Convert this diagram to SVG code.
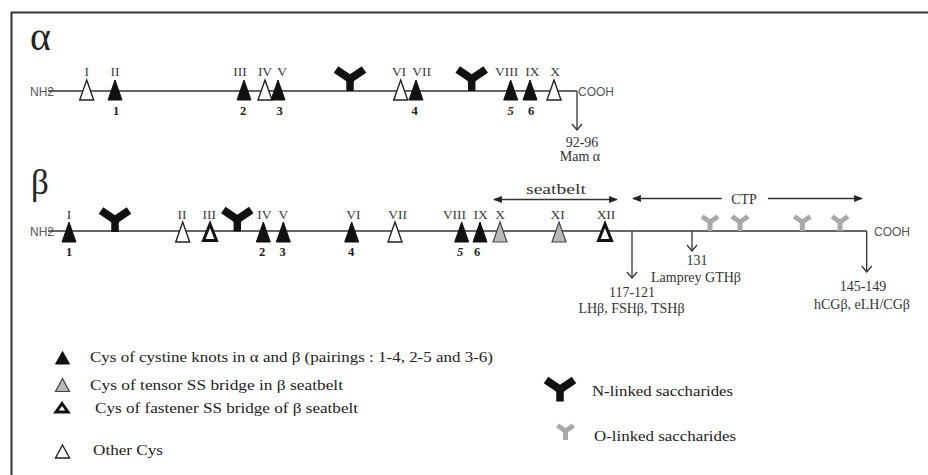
<svg xmlns="http://www.w3.org/2000/svg" xmlns:xlink="http://www.w3.org/1999/xlink" width="928" height="475" viewBox="0 0 928 475">
<style>
  .bg{fill:#fff}
  .frame{fill:none;stroke:#333;stroke-width:2}
  .chain{fill:none;stroke:#333;stroke-width:1.5}
  .tk{fill:#111;stroke:#111;stroke-width:1}
  .to{fill:#fff;stroke:#222;stroke-width:1.4}
  .tb{fill:#fff;stroke:#111;stroke-width:3;stroke-linejoin:miter}
  .tg{fill:#b8b8b8;stroke:#444;stroke-width:1.2}
  .ny{fill:none;stroke:#111;stroke-linejoin:miter}
  .oy{fill:none;stroke:#a9a9a9;stroke-linejoin:miter}
  .rn{font-family:"Liberation Serif",serif;font-size:13.5px;fill:#3a3a3a;text-anchor:middle}
  .num{font-family:"Liberation Serif",serif;font-size:12.5px;font-weight:bold;fill:#222;text-anchor:middle}
  .sans{font-family:"Liberation Sans",Arial,sans-serif;font-size:12px;fill:#555}
  .ser{font-family:"Liberation Serif",serif;font-size:14px;fill:#333;text-anchor:middle}
  .leg{font-family:"Liberation Serif",serif;font-size:15.5px;fill:#222}
  .big{font-family:"Liberation Serif",serif;fill:#222}
  .arr{fill:none;stroke:#333;stroke-width:1.3}
</style>
<defs>
  <path id="triA" d="M0,-11 L7,9 L-7,9 Z"/>
  <path id="triB" d="M0,-9 L7,11 L-7,11 Z"/>
  <path id="triBb" d="M0,-7 L6.5,9.5 L-6.5,9.5 Z"/>
  <g id="nY">
    <path d="M0,0 V-13" stroke-width="7.5"/>
    <path d="M-14,-21.5 L0,-12 L14,-21.5" stroke-width="8"/>
  </g>
  <g id="oY">
    <path d="M0,0 V-10" stroke-width="5"/>
    <path d="M-8,-14.5 L0,-9 L8,-14.5" stroke-width="5"/>
  </g>
  <marker id="ah" viewBox="0 0 10 8" refX="9" refY="4" markerWidth="9" markerHeight="7" markerUnits="userSpaceOnUse" orient="auto-start-reverse">
    <path d="M0,0 L10,4 L0,8 Z" fill="#222"/>
  </marker>
  <marker id="av" viewBox="0 0 8 12" refX="7" refY="6" markerWidth="8" markerHeight="12" markerUnits="userSpaceOnUse" orient="auto">
    <path d="M1,1 L7,6 L1,11" fill="none" stroke="#333" stroke-width="1.3"/>
  </marker>
</defs>
<rect class="bg" x="0" y="0" width="928" height="475"/>
<path class="frame" d="M11.5,475 V12.5 H928"/>

<!-- Alpha chain -->
<g id="alpha-chain">
  <text class="big" x="30" y="50" font-size="40">α</text>
  <text class="sans" x="30" y="95.5">NH2</text>
  <line class="chain" x1="48" y1="91" x2="577" y2="91"/>
  <text class="sans" x="578" y="95.5" font-size="11.5">COOH</text>
</g>
<g id="alpha-I"><use xlink:href="#triA" class="to" x="86.7" y="91"/><text class="rn" x="86.7" y="76">I</text></g>
<g id="alpha-II"><use xlink:href="#triA" class="tk" x="115" y="91"/><text class="rn" x="115" y="76">II</text><text class="num" x="116" y="115">1</text></g>
<g id="alpha-III"><use xlink:href="#triA" class="tk" x="244" y="91"/><text class="rn" x="240" y="76">III</text><text class="num" x="243" y="115">2</text></g>
<g id="alpha-IV"><use xlink:href="#triA" class="to" x="265" y="91"/><text class="rn" x="265" y="76">IV</text></g>
<g id="alpha-V"><use xlink:href="#triA" class="tk" x="278" y="91"/><text class="rn" x="282" y="76">V</text><text class="num" x="279.5" y="115">3</text></g>
<g id="alpha-N1"><use xlink:href="#nY" class="ny" x="350" y="91"/></g>
<g id="alpha-VI"><use xlink:href="#triA" class="to" x="400.7" y="91"/><text class="rn" x="399" y="76">VI</text></g>
<g id="alpha-VII"><use xlink:href="#triA" class="tk" x="416" y="91"/><text class="rn" x="421.7" y="76">VII</text><text class="num" x="414.5" y="115">4</text></g>
<g id="alpha-N2"><use xlink:href="#nY" class="ny" x="471.7" y="91"/></g>
<g id="alpha-VIII"><use xlink:href="#triA" class="tk" x="510.7" y="91"/><text class="rn" x="506.7" y="76">VIII</text><text class="num" x="510.7" y="115" font-style="italic">5</text></g>
<g id="alpha-IX"><use xlink:href="#triA" class="tk" x="530" y="91"/><text class="rn" x="532.3" y="76">IX</text><text class="num" x="531" y="115">6</text></g>
<g id="alpha-X"><use xlink:href="#triA" class="to" x="554" y="91"/><text class="rn" x="555" y="76">X</text></g>
<g id="alpha-mam">
  <text class="ser" x="582" y="146.5" font-size="12.5">92-96</text>
  <text class="ser" x="580" y="161" font-size="12.5">Mam α</text>
</g>

<!-- Beta chain -->
<g id="beta-chain">
  <text class="big" x="31" y="194" font-size="35">β</text>
  <text class="sans" x="30" y="235.5">NH2</text>
  <line class="chain" x1="48" y1="231" x2="866.7" y2="231"/>
  <text class="sans" x="874" y="236" font-size="11.5">COOH</text>
</g>
<g id="beta-I"><use xlink:href="#triB" class="tk" x="69" y="231"/><text class="rn" x="69" y="218.5">I</text><text class="num" x="69" y="256">1</text></g>
<g id="beta-N1"><use xlink:href="#nY" class="ny" x="115" y="232"/></g>
<g id="beta-II"><use xlink:href="#triB" class="to" x="182.7" y="231"/><text class="rn" x="182" y="218.5">II</text></g>
<g id="beta-III"><use xlink:href="#triBb" class="tb" x="210" y="231"/><text class="rn" x="209.3" y="218.5">III</text></g>
<g id="beta-N2"><use xlink:href="#nY" class="ny" x="237.3" y="231.5"/></g>
<g id="beta-IV"><use xlink:href="#triB" class="tk" x="263.3" y="231"/><text class="rn" x="264.3" y="218.5">IV</text><text class="num" x="262" y="256">2</text></g>
<g id="beta-V"><use xlink:href="#triB" class="tk" x="283.3" y="231"/><text class="rn" x="283.3" y="218.5">V</text><text class="num" x="282.7" y="256">3</text></g>
<g id="beta-VI"><use xlink:href="#triB" class="tk" x="351.7" y="231"/><text class="rn" x="353.3" y="218.5">VI</text><text class="num" x="351" y="256">4</text></g>
<g id="beta-VII"><use xlink:href="#triB" class="to" x="395" y="231"/><text class="rn" x="397.7" y="218.5">VII</text></g>
<g id="beta-VIII"><use xlink:href="#triB" class="tk" x="461.7" y="231"/><text class="rn" x="454.5" y="218.5">VIII</text><text class="num" x="460" y="256" font-style="italic">5</text></g>
<g id="beta-IX"><use xlink:href="#triB" class="tk" x="480" y="231"/><text class="rn" x="480.7" y="218.5">IX</text><text class="num" x="477" y="256">6</text></g>
<g id="beta-X"><use xlink:href="#triB" class="tg" x="500" y="231"/><text class="rn" x="500" y="218.5">X</text></g>
<g id="beta-XI"><use xlink:href="#triB" class="tg" x="559" y="231"/><text class="rn" x="557.7" y="218.5">XI</text></g>
<g id="beta-XII"><use xlink:href="#triBb" class="tb" x="605" y="231"/><text class="rn" x="606" y="218.5">XII</text></g>
<g id="beta-O1"><use xlink:href="#oY" class="oy" x="710" y="231"/></g>
<g id="beta-O2"><use xlink:href="#oY" class="oy" x="740" y="231"/></g>
<g id="beta-O3"><use xlink:href="#oY" class="oy" x="802.3" y="231"/></g>
<g id="beta-O4"><use xlink:href="#oY" class="oy" x="840" y="231"/></g>
<g id="label-seatbelt"><text class="ser" x="556" y="194" font-size="18" textLength="60" lengthAdjust="spacingAndGlyphs">seatbelt</text></g>
<g id="label-ctp"><text class="ser" x="744" y="204" font-size="16">CTP</text></g>
<g id="label-117"><text class="ser" x="632" y="297">117-121</text><text class="ser" x="631.5" y="313">LHβ, FSHβ, TSHβ</text></g>
<g id="label-131"><text class="ser" x="697" y="264.5">131</text><text class="ser" x="696" y="282">Lamprey GTHβ</text></g>
<g id="label-145"><text class="ser" x="863" y="291">145-149</text><text class="ser" x="862" y="309">hCGβ, eLH/CGβ</text></g>

<!-- Connectors -->
<g id="connectors">
  <line class="arr" x1="577" y1="91" x2="577" y2="130" marker-end="url(#av)"/>
  <line class="arr" x1="494" y1="199.5" x2="617" y2="199.5" marker-start="url(#ah)" marker-end="url(#ah)"/>
  <line class="arr" x1="633" y1="198.5" x2="721.7" y2="198.5" marker-start="url(#ah)"/>
  <line class="arr" x1="768" y1="198.5" x2="862" y2="198.5" marker-end="url(#ah)"/>
  <line class="arr" x1="632" y1="231" x2="632" y2="278" marker-end="url(#av)"/>
  <line class="arr" x1="692" y1="231" x2="692" y2="251" marker-end="url(#av)"/>
  <line class="arr" x1="866.7" y1="231" x2="866.7" y2="272" marker-end="url(#av)"/>
</g>

<!-- Legend -->
<g id="legend-knot"><polygon class="tk" points="62.5,351.5 69.5,364 55.5,364"/><text class="leg" x="90" y="361.5" textLength="403" lengthAdjust="spacingAndGlyphs">Cys of cystine knots in α and β (pairings : 1-4, 2-5 and 3-6)</text></g>
<g id="legend-tensor"><polygon class="tg" points="62.5,378.5 69.5,391.5 55.5,391.5"/><text class="leg" x="90" y="389.5" textLength="253" lengthAdjust="spacingAndGlyphs">Cys of  tensor SS bridge in β seatbelt</text></g>
<g id="legend-fastener"><polygon class="tb" points="62,403.5 68,412 56,412"/><text class="leg" x="95" y="413" textLength="263" lengthAdjust="spacingAndGlyphs">Cys of  fastener SS bridge of β seatbelt</text></g>
<g id="legend-other"><polygon class="to" points="62.5,445 69.5,458 55.5,458"/><text class="leg" x="93" y="455" textLength="70" lengthAdjust="spacingAndGlyphs">Other Cys</text></g>
<g id="legend-N"><use xlink:href="#nY" class="ny" x="560" y="401.5"/><text class="leg" x="592" y="396" textLength="141" lengthAdjust="spacingAndGlyphs">N-linked saccharides</text></g>
<g id="legend-O"><use xlink:href="#oY" class="oy" x="565.5" y="440"/><text class="leg" x="594" y="440.5" textLength="142" lengthAdjust="spacingAndGlyphs">O-linked saccharides</text></g>
</svg>
